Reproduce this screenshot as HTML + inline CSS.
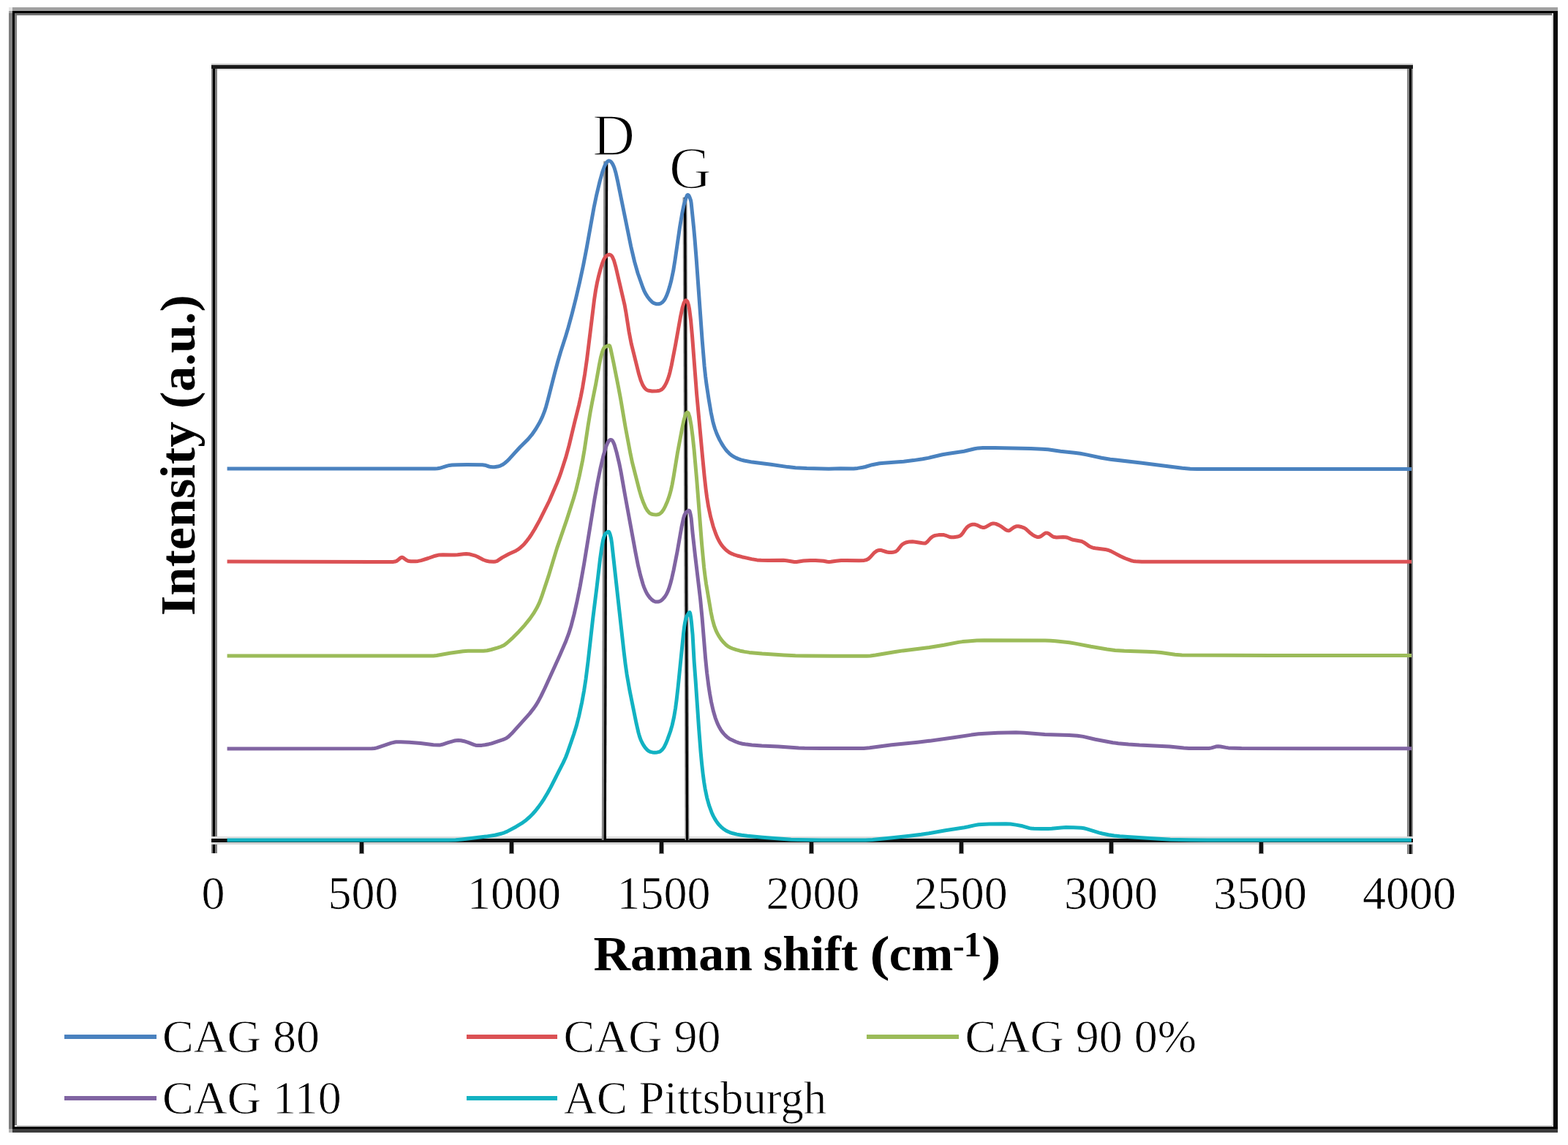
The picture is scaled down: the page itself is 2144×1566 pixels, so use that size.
<!DOCTYPE html>
<html><head><meta charset="utf-8"><style>
html,body{margin:0;padding:0;background:#fff;}
body{width:2144px;height:1566px;overflow:hidden;position:relative;}
svg{position:absolute;left:0;top:0;}
text{font-family:"Liberation Serif","Times New Roman",serif;fill:#000;}
</style></head><body>
<svg width="2144" height="1566" viewBox="0 0 2144 1566">
<!-- outer frame -->
<rect x="12" y="10" width="5" height="5" fill="#e6e6e6"/>
<rect x="17" y="10" width="2113" height="5" fill="#a0a0a0"/>
<rect x="12" y="15" width="5" height="3" fill="#a6a6a6"/>
<rect x="12" y="18" width="5" height="1526" fill="#7f7f7f"/>
<rect x="12" y="1544" width="5" height="5" fill="#b4b4b4"/>
<rect x="17" y="15" width="2113" height="3" fill="#000"/>
<rect x="20" y="18" width="2102" height="3" fill="#727272"/>
<rect x="17" y="15" width="3" height="1529" fill="#000"/>
<rect x="20" y="21" width="3" height="1518" fill="#7f7f7f"/>
<rect x="2122" y="18" width="2" height="1523" fill="#d8d8d8"/>
<rect x="2124" y="15" width="6" height="1529" fill="#080808"/>
<rect x="23" y="1539" width="2099" height="2" fill="#c8c8c8"/>
<rect x="17" y="1541" width="2113" height="3" fill="#000"/>
<rect x="17" y="1544" width="2113" height="5" fill="#3c3c3c"/>
<!-- plot frame -->
<rect x="289" y="89" width="8" height="1078" fill="#808080"/>
<rect x="291" y="89" width="3" height="1078" fill="#000"/>
<rect x="1924" y="89" width="8" height="1079" fill="#888"/>
<rect x="1927" y="89" width="3" height="1079" fill="#000"/>
<rect x="289" y="87" width="1643" height="2" fill="#c8c8c8"/>
<rect x="297" y="94" width="1627" height="2" fill="#e0e0e0"/>
<rect x="289" y="89" width="1643" height="5" fill="#1a1a1a"/>
<rect x="289" y="1144" width="1643" height="3" fill="#dedede"/>
<rect x="289" y="1152" width="1643" height="3" fill="#d4d4d4"/>
<rect x="289" y="1147" width="1643" height="5" fill="#111"/>
<rect x="491.0" y="1152" width="7" height="16" fill="#999"/><rect x="492.0" y="1152" width="5" height="15" fill="#111"/><rect x="696.0" y="1152" width="7" height="16" fill="#999"/><rect x="697.0" y="1152" width="5" height="15" fill="#111"/><rect x="901.0" y="1152" width="7" height="16" fill="#999"/><rect x="902.0" y="1152" width="5" height="15" fill="#111"/><rect x="1106.0" y="1152" width="7" height="16" fill="#999"/><rect x="1107.0" y="1152" width="5" height="15" fill="#111"/><rect x="1311.0" y="1152" width="7" height="16" fill="#999"/><rect x="1312.0" y="1152" width="5" height="15" fill="#111"/><rect x="1516.0" y="1152" width="7" height="16" fill="#999"/><rect x="1517.0" y="1152" width="5" height="15" fill="#111"/><rect x="1721.0" y="1152" width="7" height="16" fill="#999"/><rect x="1722.0" y="1152" width="5" height="15" fill="#111"/>
<!-- D/G lines -->
<path d="M828.3 220.5 L825.8 1149" stroke="#888" stroke-width="6" fill="none"/>
<path d="M829.6 220.5 L827.3 1149" stroke="#000" stroke-width="3.2" fill="none"/>
<path d="M936.5 270 L939.5 1149" stroke="#999" stroke-width="6" fill="none"/>
<path d="M936.6 270 L939.6 1149" stroke="#000" stroke-width="3.2" fill="none"/>
<!-- curves -->
<g fill="none" stroke-width="5.0" stroke-linejoin="round" stroke-linecap="butt">
<path d="M310.6 641.0 594.6 641.0 598.1 640.8 601.1 640.3 605.1 639.2 611.6 637.1 614.6 636.4 618.1 636.1 625.6 635.8 638.6 635.6 659.6 635.7 663.1 636.2 668.6 638.0 671.1 638.6 673.6 638.8 676.1 638.7 680.6 638.1 684.1 637.1 687.1 635.6 690.1 633.5 693.1 630.9 696.6 627.4 711.1 611.5 722.1 600.6 727.1 594.7 732.6 586.8 737.6 578.3 741.6 570.1 744.6 562.4 746.6 556.2 749.1 547.2 758.6 509.9 762.6 495.0 766.6 481.3 773.6 459.4 777.1 447.7 782.1 429.4 787.6 407.5 792.6 386.0 797.6 362.7 802.1 339.5 812.1 283.7 815.6 267.0 820.1 248.2 823.6 235.7 826.6 227.4 828.1 224.3 829.6 222.0 831.1 220.5 832.6 219.9 833.6 220.1 835.1 220.9 836.6 222.6 837.6 224.2 839.1 227.3 840.1 229.9 842.1 236.7 844.6 247.9 862.6 336.6 867.6 357.9 872.1 373.7 878.6 392.3 880.6 397.3 882.6 401.4 885.1 405.4 888.6 410.0 891.6 413.1 894.1 414.7 897.1 415.7 900.6 415.7 903.1 415.1 905.6 413.5 907.6 411.4 909.6 408.3 911.6 404.0 913.6 398.6 915.6 392.1 917.6 384.7 920.6 370.6 923.1 355.2 929.6 310.1 932.6 292.6 935.1 280.3 938.1 270.4 939.6 267.1 940.1 266.6 940.6 266.5 941.1 266.7 942.1 267.9 943.1 270.0 944.6 274.4 945.1 277.3 948.6 311.6 950.1 328.3 952.1 353.3 960.1 464.5 963.1 500.5 964.6 514.6 966.1 526.2 969.1 545.9 972.1 563.7 974.6 575.8 976.1 581.6 977.6 586.5 979.6 592.0 981.6 596.7 984.1 601.9 986.6 606.4 989.1 610.4 992.1 614.6 994.6 617.6 997.1 620.1 1000.1 622.6 1003.1 624.5 1006.1 626.1 1009.6 627.6 1013.1 628.8 1017.6 630.0 1028.6 632.1 1054.1 635.2 1077.1 638.6 1087.6 639.8 1103.1 640.6 1123.1 641.1 1133.1 641.2 1149.1 640.8 1167.1 640.9 1172.6 640.4 1179.6 639.3 1183.1 638.5 1192.6 635.7 1202.6 633.8 1208.6 633.2 1225.1 632.1 1235.6 631.2 1249.1 629.6 1261.6 627.8 1269.1 626.4 1288.6 621.8 1296.1 620.5 1318.1 617.2 1332.6 613.8 1337.6 612.9 1344.1 612.4 1360.1 612.5 1409.6 613.6 1425.1 614.3 1433.1 614.8 1450.1 617.3 1469.1 619.2 1477.1 620.3 1485.6 621.9 1506.1 626.3 1518.1 628.2 1559.6 633.0 1616.6 640.3 1627.6 641.3 1637.1 641.5 1930.0 641.5" stroke="#4a82bf"/>
<path d="M310.6 768.0 411.6 768.3 537.1 768.4 540.1 768.1 542.1 767.4 543.6 766.4 547.6 763.0 548.6 762.5 549.6 762.3 550.6 762.5 551.6 763.0 555.6 766.0 558.1 767.2 561.6 767.7 568.1 767.7 571.6 767.4 575.6 766.6 585.6 763.5 595.1 760.2 600.6 758.9 605.6 758.7 617.1 759.1 621.6 759.1 625.6 758.8 634.1 757.8 637.6 757.6 642.6 758.1 649.1 759.8 652.6 761.3 660.6 765.5 664.6 767.0 669.6 768.1 675.1 768.3 677.6 768.0 679.6 767.3 686.6 762.6 696.1 757.5 705.6 753.2 708.1 751.7 710.6 749.8 714.1 746.7 717.1 743.7 720.1 740.1 723.6 735.5 727.1 730.3 731.1 723.8 738.1 711.1 751.1 685.0 761.6 660.5 764.1 654.3 766.6 647.4 773.6 625.8 778.1 609.4 785.6 578.0 791.6 554.1 794.1 542.8 796.6 529.9 799.6 511.9 802.6 490.9 812.6 409.6 814.6 396.5 816.6 386.0 818.6 377.4 821.1 368.0 823.1 361.5 825.1 356.2 826.6 353.2 828.6 350.4 830.6 348.9 832.1 348.3 833.1 348.2 834.6 348.6 835.6 349.3 836.6 350.3 837.6 351.9 839.6 356.6 842.1 365.5 854.1 417.1 856.1 428.4 860.1 453.9 863.1 469.6 873.6 511.8 876.1 520.0 878.6 526.1 881.1 530.2 882.6 531.9 884.1 533.1 885.6 533.9 887.1 534.3 891.6 534.9 898.1 534.8 900.1 534.6 902.1 534.1 904.6 532.8 906.6 531.0 908.6 528.3 911.1 523.6 913.1 518.7 914.6 514.3 916.1 508.8 918.1 500.0 923.6 471.8 930.6 432.4 933.1 420.7 935.1 414.3 936.6 411.6 937.6 410.8 938.6 410.9 939.6 411.9 940.1 412.8 941.6 417.5 942.6 422.7 944.6 438.4 946.6 460.8 952.6 538.6 960.6 625.1 963.1 650.7 965.1 668.8 966.6 680.2 968.6 692.6 971.6 706.7 975.1 719.7 978.6 729.8 980.6 734.6 982.6 738.8 984.6 742.4 986.6 745.4 989.1 748.5 991.6 751.1 994.1 753.3 997.1 755.5 999.6 756.9 1003.1 758.3 1008.1 760.0 1014.6 761.7 1027.6 764.6 1035.1 765.9 1040.6 766.3 1050.6 766.6 1071.1 766.3 1075.6 766.8 1086.1 768.5 1089.1 768.4 1098.6 767.1 1108.1 766.5 1115.1 766.6 1122.6 766.9 1126.1 767.3 1131.1 768.3 1133.6 768.5 1136.1 768.3 1143.1 767.2 1150.1 766.6 1157.1 766.5 1174.6 766.8 1181.6 766.4 1184.6 765.8 1187.1 764.5 1189.6 762.3 1194.1 757.3 1196.1 755.4 1198.1 753.9 1200.6 752.8 1202.6 752.5 1205.1 752.6 1212.6 755.0 1215.6 755.5 1219.1 755.6 1222.6 755.0 1224.6 754.3 1226.6 753.0 1228.1 751.4 1232.1 746.3 1234.1 744.3 1236.6 742.8 1239.6 741.7 1243.6 740.9 1247.6 740.8 1251.6 741.2 1261.1 742.8 1263.6 743.0 1265.1 742.9 1266.1 742.4 1267.6 741.3 1272.1 736.3 1275.1 733.9 1276.6 733.1 1278.6 732.4 1283.6 731.6 1287.6 731.4 1290.6 731.6 1293.1 732.3 1298.1 734.3 1300.6 734.8 1304.1 734.8 1309.1 734.1 1312.1 733.1 1314.1 731.8 1316.1 729.6 1320.1 723.7 1322.1 721.2 1324.6 719.2 1327.1 718.0 1330.1 717.2 1333.1 717.3 1335.6 718.1 1341.6 720.9 1343.6 721.4 1345.1 721.5 1346.6 721.2 1348.1 720.7 1355.1 716.7 1357.1 716.0 1358.6 715.9 1361.6 716.4 1365.6 718.1 1369.6 720.4 1375.1 724.5 1376.6 725.3 1378.1 725.7 1379.6 725.7 1381.1 725.1 1386.6 721.1 1389.1 720.0 1390.6 719.7 1392.6 719.8 1397.1 720.8 1400.1 721.9 1402.6 723.4 1409.1 729.3 1412.1 731.6 1415.6 733.5 1418.1 734.4 1420.1 734.5 1422.1 734.0 1423.6 733.2 1428.6 729.5 1430.1 728.9 1431.6 728.9 1433.6 729.6 1438.6 733.3 1440.1 734.1 1441.6 734.6 1444.6 735.0 1453.6 734.5 1457.1 734.7 1459.6 735.3 1464.6 737.4 1467.1 738.3 1478.1 740.2 1480.1 740.9 1482.1 741.9 1489.1 746.9 1492.6 748.6 1494.6 749.2 1497.6 749.7 1511.1 751.4 1515.6 752.5 1519.1 753.9 1532.1 760.7 1538.1 763.5 1546.6 766.7 1549.6 767.4 1552.6 767.8 1561.1 768.2 1571.6 768.3 1930.0 768.3" stroke="#db5154"/>
<path d="M310.6 897.0 592.6 896.9 597.1 896.5 615.1 893.3 633.1 890.7 640.1 890.3 661.1 890.3 666.1 889.8 671.6 888.5 680.6 885.9 684.6 884.5 689.1 882.4 693.1 879.5 701.6 871.8 709.6 863.7 717.6 854.8 724.6 846.1 729.6 838.9 734.1 831.3 737.6 824.1 740.6 816.2 750.1 787.6 761.6 749.6 774.6 711.9 784.1 682.3 787.6 670.2 792.1 651.5 796.6 629.8 799.1 615.4 804.1 582.1 807.1 563.9 809.6 550.6 814.6 525.8 819.6 497.9 821.6 488.1 823.6 481.0 824.6 478.3 825.6 476.3 826.6 475.2 828.1 474.2 831.1 472.9 833.1 472.5 833.6 473.0 834.1 474.1 835.1 477.7 839.1 496.8 845.6 529.5 848.6 545.5 855.1 583.8 862.1 621.1 864.6 632.9 874.1 670.1 877.1 680.2 879.6 687.1 882.6 693.9 885.1 698.2 887.6 701.2 889.1 702.3 890.6 703.0 892.6 703.5 894.6 703.8 897.1 703.9 899.1 703.7 901.1 703.2 902.6 702.4 904.6 700.7 907.1 697.3 909.6 692.6 912.6 685.7 914.6 680.2 916.1 675.3 917.6 669.6 919.1 662.8 921.1 651.7 926.6 618.2 932.6 586.4 935.1 574.6 937.1 567.8 938.6 564.8 939.6 564.0 940.1 564.0 941.1 564.9 941.6 565.9 943.1 570.7 945.1 581.6 947.1 596.8 949.1 615.4 952.6 654.9 959.6 744.2 962.6 776.0 964.1 788.3 965.6 798.8 972.1 837.2 974.1 846.8 976.6 856.0 979.1 862.6 980.6 865.8 982.6 869.4 984.6 872.5 987.1 875.9 989.6 878.8 992.1 881.3 994.1 883.0 996.1 884.4 998.6 885.7 1001.6 887.0 1006.6 888.7 1012.1 890.2 1018.1 891.4 1024.6 892.4 1042.1 894.1 1071.6 895.9 1087.6 896.7 1101.1 897.0 1139.1 897.3 1185.1 897.3 1190.1 897.0 1197.1 896.0 1222.6 891.7 1234.6 889.9 1270.6 885.5 1290.6 882.2 1310.6 878.4 1316.1 877.6 1323.6 876.9 1335.6 876.0 1345.6 875.7 1429.1 876.1 1436.1 876.3 1443.1 876.7 1462.1 878.7 1470.1 880.1 1491.6 884.3 1513.6 888.0 1524.6 889.5 1537.6 890.3 1568.1 891.2 1579.1 891.7 1587.6 892.5 1606.6 895.2 1616.1 896.0 1738.1 896.5 1930.0 896.6" stroke="#9bbb59"/>
<path d="M310.6 1024.0 508.6 1023.8 512.1 1023.5 515.1 1022.9 535.1 1016.2 538.6 1015.3 541.6 1014.8 548.1 1014.7 559.6 1015.3 575.1 1016.6 592.6 1018.7 599.6 1019.1 602.1 1018.9 604.6 1018.3 612.6 1015.6 620.6 1013.3 623.6 1012.7 626.6 1012.5 630.1 1012.7 634.6 1013.7 640.6 1015.6 647.6 1018.4 650.1 1019.2 652.6 1019.6 655.1 1019.6 658.6 1019.4 663.1 1018.7 668.6 1017.7 672.1 1016.8 689.1 1011.1 692.1 1009.7 695.1 1007.6 699.6 1003.3 724.1 976.1 730.1 968.4 733.1 964.0 735.6 959.9 739.6 952.4 745.1 941.0 765.1 897.0 773.1 878.6 777.6 866.7 781.1 855.4 785.1 839.9 789.1 822.0 793.1 802.2 798.6 771.4 813.1 682.0 817.1 659.8 821.1 639.8 825.1 622.8 828.6 611.1 830.6 606.2 832.1 603.5 833.6 601.9 835.1 601.4 836.1 601.6 836.6 601.9 837.6 603.0 838.6 604.7 840.1 608.3 843.1 618.6 846.6 633.3 849.1 645.8 854.6 677.1 869.1 756.3 872.6 773.9 875.6 786.5 879.1 798.8 880.6 803.1 882.6 807.9 884.6 811.8 886.6 814.9 889.1 818.1 891.1 820.1 893.6 821.9 895.1 822.6 896.6 823.0 899.6 823.1 901.1 822.8 902.6 822.2 904.1 821.3 905.6 820.1 908.6 816.8 911.1 813.0 913.1 808.9 914.6 805.0 916.6 798.5 918.6 790.8 921.1 779.8 926.1 754.3 932.1 720.0 934.6 708.5 936.1 703.9 937.6 701.3 939.6 699.5 941.1 698.5 942.1 698.3 942.6 698.5 943.1 699.4 944.1 703.3 945.1 708.6 947.1 729.5 950.6 760.6 957.6 819.3 960.1 845.6 964.6 900.3 966.6 920.3 969.1 939.7 970.6 949.2 972.6 960.2 975.1 971.5 978.1 981.8 981.1 989.6 983.1 993.8 985.1 997.3 987.1 1000.4 989.1 1002.9 991.6 1005.6 994.1 1007.9 996.6 1009.8 999.1 1011.3 1006.1 1014.5 1010.6 1016.1 1015.1 1017.2 1020.6 1018.1 1028.1 1018.9 1041.6 1020.0 1064.1 1020.9 1092.1 1023.0 1100.1 1023.3 1122.6 1023.4 1181.1 1023.4 1189.1 1022.8 1219.1 1018.7 1254.6 1015.2 1268.6 1013.6 1305.6 1008.6 1328.1 1005.1 1338.1 1003.8 1346.6 1003.2 1364.6 1002.3 1378.1 1001.9 1389.1 1001.8 1400.6 1002.3 1428.6 1004.6 1462.1 1005.6 1473.1 1006.2 1481.1 1007.4 1497.6 1011.2 1513.6 1014.3 1521.6 1015.7 1529.1 1016.7 1543.1 1018.1 1558.1 1019.1 1599.1 1020.9 1618.6 1023.0 1625.6 1023.5 1653.1 1023.5 1656.6 1022.9 1662.6 1021.1 1665.6 1020.7 1668.6 1021.0 1676.1 1022.4 1679.6 1022.9 1688.1 1023.3 1697.6 1023.6 1930.0 1023.8" stroke="#8064a2"/>
<path d="M310.6 1149.0 612.6 1149.0 623.1 1148.7 631.6 1147.9 664.6 1144.1 676.6 1142.2 686.1 1140.0 689.6 1138.8 693.1 1137.4 705.6 1130.7 713.1 1126.2 719.6 1121.4 724.1 1117.5 728.1 1113.5 732.1 1109.0 736.1 1103.9 740.1 1098.4 744.1 1092.3 748.6 1084.7 753.1 1076.6 770.1 1043.1 773.6 1035.5 776.1 1028.9 784.6 1004.3 788.1 993.1 791.6 979.5 795.6 961.0 798.6 944.6 801.1 928.3 804.1 904.5 810.6 846.6 816.1 802.5 820.6 764.1 822.6 749.8 824.6 738.8 825.6 735.0 826.6 732.3 827.6 730.5 829.1 728.9 830.6 727.7 832.1 727.2 832.6 727.4 833.1 728.1 834.1 730.7 835.6 736.4 836.6 743.0 853.1 891.5 855.1 908.0 857.1 922.2 861.1 945.1 870.1 989.4 873.1 1002.4 874.6 1007.6 876.1 1011.7 878.1 1016.0 880.1 1019.5 882.6 1023.1 885.1 1025.7 887.1 1027.2 889.6 1028.4 892.1 1028.9 895.1 1029.2 898.6 1028.9 901.1 1028.4 903.1 1027.4 905.1 1025.7 907.1 1023.2 908.6 1020.8 910.6 1016.6 912.6 1011.7 916.6 1000.5 919.1 991.9 921.6 980.6 923.6 968.6 925.1 957.4 927.1 939.7 934.6 866.1 935.6 857.7 936.6 851.5 937.6 846.8 938.6 843.9 941.1 839.1 942.1 837.9 942.6 837.6 943.1 837.5 943.6 838.5 944.6 843.9 945.6 852.4 947.1 868.6 949.1 904.3 951.1 930.7 955.6 996.3 958.1 1028.4 959.6 1044.4 961.1 1058.0 962.6 1069.4 964.1 1078.7 966.6 1090.8 969.6 1101.6 973.1 1111.2 975.1 1115.6 977.1 1119.4 979.1 1122.6 981.6 1126.2 983.6 1128.6 986.1 1131.1 988.6 1133.2 991.6 1135.3 994.6 1137.0 997.6 1138.3 1002.1 1139.8 1007.6 1141.1 1014.1 1142.2 1022.1 1143.3 1042.6 1145.2 1081.6 1148.2 1091.1 1148.5 1123.1 1148.9 1183.6 1149.0 1193.1 1148.4 1222.6 1145.6 1243.6 1143.3 1259.6 1141.3 1270.1 1139.7 1292.6 1135.7 1318.6 1131.8 1323.6 1130.8 1333.1 1128.6 1338.1 1127.7 1342.6 1127.4 1352.6 1127.0 1375.1 1126.7 1381.6 1127.0 1389.1 1128.1 1398.1 1129.8 1407.6 1132.6 1410.1 1133.0 1413.6 1133.3 1424.6 1133.6 1432.6 1133.6 1438.1 1133.3 1451.1 1131.9 1457.6 1131.6 1468.1 1131.8 1478.6 1132.3 1482.1 1132.8 1485.6 1133.6 1502.6 1138.8 1507.1 1140.0 1515.6 1141.7 1523.6 1143.0 1531.1 1143.8 1541.6 1144.6 1600.1 1148.2 1626.1 1148.8 1650.6 1149.1 1930.0 1149.1" stroke="#12b2c2"/>
</g>
<!-- D G labels -->
<text x="810.2" y="212.4" font-size="80" stroke="#fff" stroke-width="1.6">D</text>
<text x="915" y="257.4" font-size="80" stroke="#fff" stroke-width="1.6">G</text>
<!-- tick labels -->
<g font-size="64" stroke="#fff" stroke-width="0.7"><text x="291.4" y="1242.5" text-anchor="middle">0</text><text x="496.6" y="1242.5" text-anchor="middle">500</text><text x="703.0" y="1242.5" text-anchor="middle">1000</text><text x="907.5" y="1242.5" text-anchor="middle">1500</text><text x="1111.5" y="1242.5" text-anchor="middle">2000</text><text x="1313.8" y="1242.5" text-anchor="middle">2500</text><text x="1519.0" y="1242.5" text-anchor="middle">3000</text><text x="1723.0" y="1242.5" text-anchor="middle">3500</text><text x="1927.0" y="1242.5" text-anchor="middle">4000</text></g>
<!-- axis titles -->
<g font-size="68.5" font-weight="bold">
<text x="811.6" y="1327.3" textLength="217.4" lengthAdjust="spacingAndGlyphs">Raman</text>
<text x="1043.5" y="1327.3">shift</text>
<text x="1189.3" y="1327.3" textLength="27.5" lengthAdjust="spacingAndGlyphs">(</text>
<text x="1215.8" y="1327.3">cm</text>
<text x="1303" y="1308.5" font-size="47">-</text>
<text x="1317.7" y="1307.9" font-size="48.5">1</text>
<text x="1341.9" y="1327.3" textLength="26.6" lengthAdjust="spacingAndGlyphs">)</text>
</g>
<text transform="translate(266,842) rotate(-90)" x="0" y="0" font-size="68" font-weight="bold" textLength="439" lengthAdjust="spacingAndGlyphs">Intensity (a.u.)</text>
<!-- legend -->
<g stroke-width="6">
<line x1="88" y1="1418" x2="214" y2="1418" stroke="#4a82bf"/>
<line x1="638" y1="1418" x2="762" y2="1418" stroke="#db5154"/>
<line x1="1185" y1="1418" x2="1311" y2="1418" stroke="#9bbb59"/>
<line x1="88" y1="1502" x2="214" y2="1502" stroke="#8064a2"/>
<line x1="638" y1="1502" x2="762" y2="1502" stroke="#12b2c2"/>
</g>
<g font-size="64" stroke="#fff" stroke-width="0.8">
<text x="221.9" y="1438.6">CAG 80</text>
<text x="770.4" y="1438.6">CAG 90</text>
<text x="1319.5" y="1438.6">CAG 90 0%</text>
<text x="221.9" y="1523.4">CAG 110</text>
<text x="770.8" y="1523.4" textLength="359.4" lengthAdjust="spacingAndGlyphs">AC Pittsburgh</text>
</g>
</svg>
</body></html>
